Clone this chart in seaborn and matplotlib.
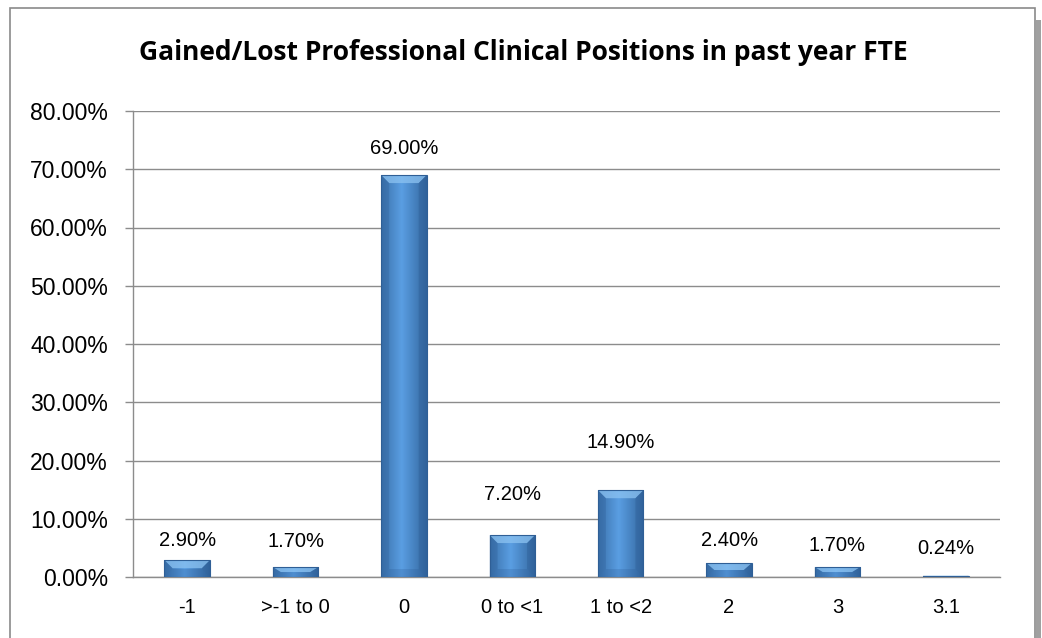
import matplotlib

matplotlib.use("Agg")
import matplotlib.pyplot as plt
import numpy as np
import pandas as pd
import seaborn as sns
from matplotlib.patches import Rectangle

categories = ["-1", ">-1 to 0", "0", "0 to <1", "1 to <2", "2", "3", "3.1"]
shares = [2.90, 1.70, 69.00, 7.20, 14.90, 2.40, 1.70, 0.24]
title = "Gained/Lost Professional Clinical Positions in past year FTE"

# label offsets above bar tops (pixels), as placed in the original
label_gap_px = [20, 26, 27, 41, 48, 23, 22, 27]

df = pd.DataFrame({"cat": categories, "pct": shares})

sns.set_theme(style="white")
plt.rcParams["font.family"] = ["Liberation Sans", "DejaVu Sans"]
plt.rcParams["text.color"] = "black"
plt.rcParams["xtick.labelcolor"] = "black"
plt.rcParams["ytick.labelcolor"] = "black"

W, H = 1042, 638
fig = plt.figure(figsize=(W / 100, H / 100), dpi=100)
ax_px = (133, 61, 867, 466)
ax = fig.add_axes([ax_px[0] / W, ax_px[1] / H, ax_px[2] / W, ax_px[3] / H])

sns.barplot(data=df, x="cat", y="pct", ax=ax, width=0.42, color="#4f8ccf",
            edgecolor="#2f5f96", linewidth=0.8, zorder=3)

ax.set_xlim(-0.5, len(categories) - 0.5)
ax.set_ylim(0, 80)
dx = len(categories) / ax_px[2]   # data units per pixel
dy = 80 / ax_px[3]

grad = np.linspace(0, 1, 64)
shade = 1 - 0.9 * np.abs(grad - 0.45)
cmap = matplotlib.colors.LinearSegmentedColormap.from_list("b", ["#33679f", "#5a9ee2"])
for p, gap in zip(ax.patches, label_gap_px):
    x0, y0 = p.get_x(), p.get_y()
    w, h = p.get_width(), p.get_height()
    im = ax.imshow(shade[None, :], cmap=cmap, vmin=0.5, vmax=1, aspect="auto",
                   extent=(x0, x0 + w, y0, y0 + h), zorder=4)
    im.set_clip_path(p)
    bx = min(8 * dx, w / 2)
    by = min(8 * dy, h / 2)
    x1, y1 = x0 + w, y0 + h
    # bevel faces
    ax.fill([x0, x1, x1 - bx, x0 + bx], [y1, y1, y1 - by, y1 - by],
            color="#8cc3f2", alpha=0.75, lw=0, zorder=5)
    ax.fill([x0, x0 + bx, x0 + bx, x0], [y0, y0 + by, y1 - by, y1],
            color="#2d5c94", alpha=0.3, lw=0, zorder=5)
    ax.fill([x1, x1 - bx, x1 - bx, x1], [y0, y0 + by, y1 - by, y1],
            color="#2d5c94", alpha=0.4, lw=0, zorder=5)
    ax.fill([x0, x1, x1 - bx, x0 + bx], [y0, y0, y0 + by, y0 + by],
            color="#24508a", alpha=0.2, lw=0, zorder=5)
    p.set_zorder(6)
    p.set_facecolor("none")
    ax.annotate(f"{h:.2f}%", (x0 + w / 2, y1), xytext=(0, gap * 0.72),
                textcoords="offset points", ha="center", va="center",
                fontsize=14.5, color="black")

ax.set_yticks(np.arange(0, 81, 10))
ax.set_yticklabels([f"{v:.2f}%" for v in np.arange(0, 81, 10)], fontsize=16.5)
ax.set_xticks(range(len(categories)))
ax.set_xticklabels(categories, fontsize=14.5)
ax.set_xlabel("")
ax.set_ylabel("")
ax.yaxis.grid(True, color="#8c8c8c", lw=1)
ax.set_axisbelow(True)
ax.set_xticks(np.arange(-0.5, len(categories)), minor=True)
ax.tick_params(axis="x", which="major", length=0, pad=15)
ax.tick_params(axis="x", which="minor", length=7, color="#8c8c8c", width=1, direction="out")
ax.tick_params(axis="y", length=6, color="#8c8c8c", width=1, direction="out", left=True, pad=12)
for s in ["top", "right"]:
    ax.spines[s].set_visible(False)
for s in ["left", "bottom"]:
    ax.spines[s].set_color("#8c8c8c")
    ax.spines[s].set_linewidth(1)

# chart frame with shadow
fig.patches.append(Rectangle((1036 / W, -0.01), 5 / W, 1 - 14 / H,
                             transform=fig.transFigure, color="#a0a0a0", lw=0))
fig.patches.append(Rectangle((10 / W, -0.05), 1025 / W, 1 - 8 / H + 0.05,
                             transform=fig.transFigure, fill=False,
                             edgecolor="#8a8a8a", lw=1.2))

fig.text(523 / W, 1 - 52 / H, title, ha="center", va="center", color="black",
         fontsize=19, fontweight="bold", family=["Open Sans", "DejaVu Sans"])

fig.savefig("out.png", dpi=100)
